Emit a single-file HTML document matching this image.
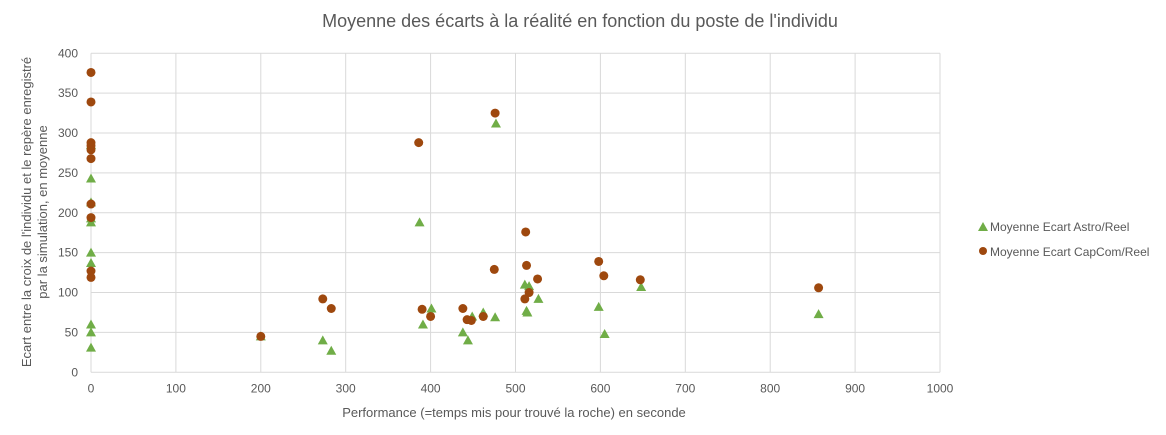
<!DOCTYPE html>
<html><head><meta charset="utf-8"><style>
html,body{margin:0;padding:0;background:#fff;}
svg{display:block;font-family:"Liberation Sans",sans-serif;}
</style></head><body>
<svg id="chart" width="1166" height="435" viewBox="0 0 1166 435" xmlns="http://www.w3.org/2000/svg">
<text x="580" y="27" text-anchor="middle" font-size="18" fill="#595959">Moyenne des écarts à la réalité en fonction du poste de l'individu</text>
<g id="grid"></g>
<g id="ticks" font-size="12" fill="#595959"></g>
<g id="marks"></g>
<text x="514" y="417" text-anchor="middle" font-size="13" fill="#595959">Performance (=temps mis pour trouvé la roche) en seconde</text>
<text transform="translate(31,212) rotate(-90)" text-anchor="middle" font-size="13" fill="#595959"><tspan x="0" dy="0">Ecart entre la croix de l'individu et le repère enregistré</tspan><tspan x="0" dy="16">par la simulation, en moyenne</tspan></text>
<g font-size="12" fill="#595959">
<g><polygon points="978,231 983,222 988,231" fill="#70AD47"/><text x="990" y="231">Moyenne Ecart Astro/Reel</text></g>
<g><circle cx="983" cy="251" r="4" fill="#9E480E"/><text x="990" y="256">Moyenne Ecart CapCom/Reel</text></g>
</g>
</svg>
<script>
const xTicks=[0,100,200,300,400,500,600,700,800,900,1000];
const yTicks=[0,50,100,150,200,250,300,350,400];
const astroX=[0,0,0,0,0,0,0,0,0,0,200,273,283,387,391,401,438,444,449,462,476,477,511,516,513,514,527,598,605,648,857];
const astroY=[285,243,213,193,188,150,137,60,50,31,45,40,27,188,60,80,50,40,70,75,69,312,110,108,77,75,92,82,48,107,73];
const capX=[0,0,0,0,0,0,0,0,0,0,200,273,283,386,390,400,438,443,448,462,475,476,511,512,513,516,526,598,604,647,857];
const capY=[376,339,288,284,279,268,211,194,127,119,45,92,80,288,79,70,80,66,65,70,129,325,92,176,134,100,117,139,121,116,106];
const L=91,R=940,T=53.3,B=372.3;
const xs=v=>L+(R-L)*v/1000, ys=v=>B-(B-T)*v/400;
const NS="http://www.w3.org/2000/svg";
const g=document.getElementById('grid'),tk=document.getElementById('ticks'),mk=document.getElementById('marks');
function mkEl(t,a,p){const e=document.createElementNS(NS,t);for(const k in a)e.setAttribute(k,a[k]);p.appendChild(e);return e;}
xTicks.forEach(v=>{const l=mkEl('line',{x1:xs(v),x2:xs(v),y1:T,y2:B,stroke:'#d9d9d9','stroke-width':1},g);


const t=mkEl('text',{x:xs(v),y:B+20,'text-anchor':'middle'},tk);t.textContent=v;

});
yTicks.forEach(v=>{const l=mkEl('line',{x1:L,x2:R,y1:ys(v),y2:ys(v),stroke:'#d9d9d9','stroke-width':1},g);


const t=mkEl('text',{x:L-13,y:ys(v)+4,'text-anchor':'end'},tk);t.textContent=v;

});
astroX.forEach((v,i)=>{const x=xs(v),y=ys(astroY[i]);
const p=mkEl('polygon',{points:`${x-5},${y+4} ${x},${y-5} ${x+5},${y+4}`,fill:'#70AD47'},mk);

});
capX.forEach((v,i)=>{const c=mkEl('circle',{cx:xs(v),cy:ys(capY[i]),r:4.5,fill:'#9E480E'},mk);

});
</script>
</body></html>
